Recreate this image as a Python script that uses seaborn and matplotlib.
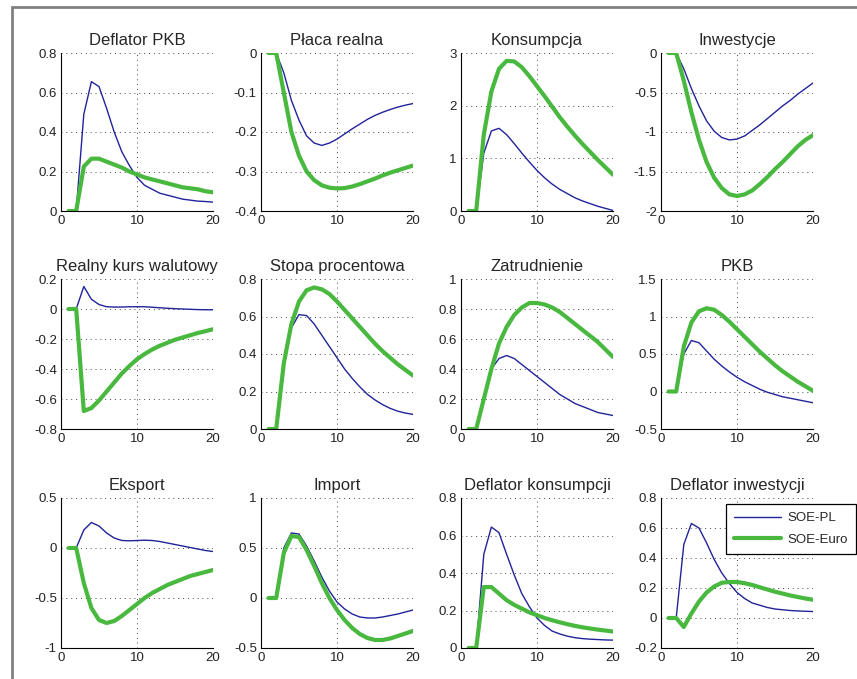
import numpy as np
import pandas as pd
import matplotlib
matplotlib.use("Agg")
import matplotlib.pyplot as plt
import matplotlib.ticker as mticker
from matplotlib.patches import Rectangle
import seaborn as sns

# --- data ---
steps = list(range(1, 21))

titles = ["Deflator PKB", "Płaca realna", "Konsumpcja", "Inwestycje",
          "Realny kurs walutowy", "Stopa procentowa", "Zatrudnienie", "PKB",
          "Eksport", "Import", "Deflator konsumpcji", "Deflator inwestycji"]

ylims = [(0, 0.8), (-0.4, 0), (0, 3), (-2, 0),
         (-0.8, 0.2), (0, 0.8), (0, 1), (-0.5, 1.5),
         (-1, 0.5), (-0.5, 1), (0, 0.8), (-0.2, 0.8)]

yticks = [[0, 0.2, 0.4, 0.6, 0.8], [-0.4, -0.3, -0.2, -0.1, 0], [0, 1, 2, 3], [-2, -1.5, -1, -0.5, 0],
          [-0.8, -0.6, -0.4, -0.2, 0, 0.2], [0, 0.2, 0.4, 0.6, 0.8], [0, 0.2, 0.4, 0.6, 0.8, 1], [-0.5, 0, 0.5, 1, 1.5],
          [-1, -0.5, 0, 0.5], [-0.5, 0, 0.5, 1], [0, 0.2, 0.4, 0.6, 0.8], [-0.2, 0, 0.2, 0.4, 0.6, 0.8]]

soe_pl = [
    [0, 0, 0.49, 0.655, 0.63, 0.52, 0.40, 0.30, 0.23, 0.17, 0.13, 0.11, 0.09, 0.08, 0.07, 0.06, 0.055, 0.05, 0.048, 0.045],
    [0, 0, -0.05, -0.12, -0.17, -0.21, -0.228, -0.234, -0.228, -0.218, -0.205, -0.192, -0.18, -0.168, -0.158, -0.15, -0.143, -0.137, -0.132, -0.128],
    [0, 0, 1.1, 1.52, 1.57, 1.45, 1.28, 1.1, 0.93, 0.77, 0.63, 0.51, 0.41, 0.33, 0.25, 0.19, 0.14, 0.09, 0.05, 0.01],
    [0, 0, -0.2, -0.45, -0.67, -0.86, -0.99, -1.07, -1.1, -1.09, -1.05, -0.98, -0.91, -0.83, -0.75, -0.67, -0.6, -0.52, -0.45, -0.38],
    [0, 0, 0.15, 0.065, 0.03, 0.015, 0.013, 0.013, 0.015, 0.015, 0.015, 0.012, 0.008, 0.005, 0.002, 0, -0.002, -0.004, -0.005, -0.005],
    [0, 0, 0.35, 0.54, 0.61, 0.605, 0.56, 0.5, 0.44, 0.38, 0.32, 0.27, 0.225, 0.185, 0.155, 0.13, 0.11, 0.095, 0.085, 0.078],
    [0, 0, 0.2, 0.4, 0.47, 0.49, 0.47, 0.43, 0.39, 0.35, 0.31, 0.27, 0.23, 0.2, 0.17, 0.15, 0.13, 0.11, 0.1, 0.09],
    [0, 0, 0.5, 0.68, 0.65, 0.54, 0.43, 0.34, 0.26, 0.19, 0.13, 0.08, 0.03, -0.01, -0.04, -0.07, -0.09, -0.11, -0.13, -0.15],
    [0, 0, 0.18, 0.255, 0.22, 0.15, 0.1, 0.075, 0.072, 0.075, 0.078, 0.075, 0.065, 0.05, 0.035, 0.02, 0.005, -0.01, -0.025, -0.035],
    [0, 0, 0.5, 0.65, 0.64, 0.52, 0.37, 0.21, 0.07, -0.04, -0.11, -0.16, -0.19, -0.2, -0.2, -0.19, -0.175, -0.16, -0.14, -0.12],
    [0, 0, 0.5, 0.645, 0.615, 0.5, 0.39, 0.29, 0.22, 0.16, 0.12, 0.09, 0.075, 0.063, 0.055, 0.05, 0.047, 0.045, 0.043, 0.042],
    [0, 0, 0.49, 0.63, 0.6, 0.5, 0.39, 0.3, 0.23, 0.17, 0.13, 0.1, 0.085, 0.07, 0.06, 0.055, 0.05, 0.047, 0.045, 0.043],
]

soe_euro = [
    [0, 0, 0.225, 0.265, 0.265, 0.25, 0.235, 0.22, 0.20, 0.185, 0.17, 0.16, 0.15, 0.14, 0.13, 0.12, 0.115, 0.11, 0.10, 0.095],
    [0, 0, -0.10, -0.20, -0.26, -0.30, -0.322, -0.335, -0.341, -0.343, -0.342, -0.338, -0.332, -0.325, -0.318, -0.31, -0.303, -0.297, -0.291, -0.285],
    [0, 0, 1.45, 2.27, 2.7, 2.85, 2.84, 2.73, 2.56, 2.37, 2.18, 1.98, 1.78, 1.6, 1.43, 1.27, 1.12, 0.97, 0.83, 0.69],
    [0, 0, -0.35, -0.75, -1.1, -1.38, -1.58, -1.71, -1.79, -1.81, -1.79, -1.74, -1.66, -1.57, -1.47, -1.38, -1.28, -1.18, -1.1, -1.04],
    [0, 0, -0.68, -0.66, -0.61, -0.55, -0.49, -0.43, -0.38, -0.335, -0.3, -0.27, -0.245, -0.225, -0.205, -0.19, -0.175, -0.16, -0.148, -0.135],
    [0, 0, 0.35, 0.56, 0.68, 0.74, 0.755, 0.745, 0.72, 0.68, 0.635, 0.59, 0.545, 0.5, 0.455, 0.415, 0.38, 0.345, 0.315, 0.285],
    [0, 0, 0.2, 0.4, 0.57, 0.68, 0.76, 0.81, 0.84, 0.84, 0.83, 0.81, 0.78, 0.74, 0.7, 0.66, 0.62, 0.58, 0.53, 0.48],
    [0, 0, 0.6, 0.92, 1.07, 1.11, 1.09, 1.02, 0.93, 0.83, 0.73, 0.63, 0.53, 0.44, 0.35, 0.27, 0.2, 0.13, 0.07, 0.01],
    [0, 0, -0.35, -0.6, -0.72, -0.75, -0.73, -0.68, -0.62, -0.56, -0.5, -0.45, -0.41, -0.37, -0.34, -0.31, -0.28, -0.26, -0.24, -0.22],
    [0, 0, 0.45, 0.62, 0.61, 0.48, 0.32, 0.15, 0.0, -0.12, -0.22, -0.3, -0.36, -0.4, -0.42, -0.42, -0.405, -0.38, -0.355, -0.33],
    [0, 0, 0.325, 0.325, 0.29, 0.255, 0.23, 0.21, 0.19, 0.175, 0.16, 0.148, 0.137, 0.127, 0.118, 0.11, 0.104, 0.098, 0.093, 0.088],
    [0, 0, -0.06, 0.03, 0.11, 0.17, 0.21, 0.235, 0.24, 0.24, 0.232, 0.22, 0.205, 0.19, 0.175, 0.163, 0.15, 0.14, 0.13, 0.122],
]

# --- style ---
sns.set_style("white")
plt.rcParams["font.family"] = ["Liberation Sans", "DejaVu Sans"]

BLUE = "#22229a"
GREEN = "#48b83e"

W, H = 857, 679
fig = plt.figure(figsize=(W / 100, H / 100), dpi=100)

# frame around the figure (partly cut off at right/bottom in the source)
fig.patches.append(Rectangle((12 / W, -0.05), 1.2, 1 - 7 / H + 0.05, transform=fig.transFigure,
                             fill=False, edgecolor="#808080", linewidth=2))

col_left = [61, 261, 461, 661]
row_top = [53, 279, 498]
ax_w, ax_h = 152, 150

for i, title in enumerate(titles):
    r, c = divmod(i, 4)
    h = 158 if r == 0 else ax_h
    ax = fig.add_axes([col_left[c] / W, 1 - (row_top[r] + h) / H, ax_w / W, h / H])

    sns.lineplot(x=steps, y=soe_pl[i], ax=ax, color=BLUE, linewidth=1.0, label="SOE-PL")
    sns.lineplot(x=steps, y=soe_euro[i], ax=ax, color=GREEN, linewidth=3.0, label="SOE-Euro")

    ax.set_xlim(0, 20)
    ax.set_ylim(*ylims[i])
    ax.set_xticks([0, 10, 20])
    ax.set_yticks(yticks[i])
    ax.yaxis.set_major_formatter(mticker.FormatStrFormatter("%g"))
    ax.set_title(title, fontsize=12, pad=6)
    ax.tick_params(labelsize=9.5, direction="in", length=3, width=0.6, pad=3, colors="#222222")
    ax.grid(True, linestyle=(0, (1, 4)), color="#444444", linewidth=0.7)
    for side in ["top", "right"]:
        ax.spines[side].set_visible(False)
    for side in ["left", "bottom"]:
        ax.spines[side].set_color("black")
        ax.spines[side].set_linewidth(0.8)

    if i == len(titles) - 1:
        handles, labels = ax.get_legend_handles_labels()
        ax.legend(handles, labels, loc="upper right", bbox_to_anchor=(856 / W, 1 - 504 / H),
                  bbox_transform=fig.transFigure, fontsize=9.5, frameon=True, fancybox=False,
                  edgecolor="black", handlelength=3.6, handletextpad=0.5, borderpad=0.6,
                  borderaxespad=0, labelspacing=0.7, framealpha=1)
        ax.get_legend().get_frame().set_linewidth(0.9)
    else:
        ax.get_legend().remove()

fig.savefig("out.png", dpi=100)
